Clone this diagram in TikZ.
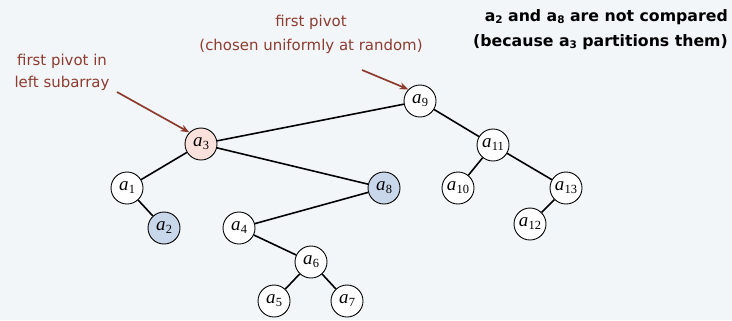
\documentclass[tikz,border=0pt]{standalone}
\usepackage{fontspec}
\setsansfont{DejaVu Sans}
\setmainfont{Liberation Serif}
\usetikzlibrary{arrows.meta}
\definecolor{bgc}{HTML}{F3F6F9}
\definecolor{redc}{HTML}{8E3B2F}
\definecolor{pinkc}{HTML}{FBE1DB}
\definecolor{bluec}{HTML}{C8D7EA}
\newcommand{\bsub}[1]{\raisebox{-0.3ex}{\fontsize{10.5}{10}\selectfont #1}}
\newcommand{\keylab}[1]{\textit{a}\kern0.3pt\raisebox{-0.35ex}{\fontsize{12.5}{12}\selectfont #1}}
\begin{document}
\begin{tikzpicture}[x=1bp,y=-1bp,
  keynode/.style={circle,draw,line width=0.9pt,fill=white,minimum size=32bp,inner sep=0pt,font=\rmfamily\fontsize{19}{19}\selectfont},
  edge/.style={line width=1.6pt},
  note/.style={text=redc,font=\sffamily\fontsize{15}{22}\selectfont,align=center},
  pointer/.style={draw=redc,line width=1.7pt,-{Stealth[length=9bp,width=7bp]}}]
\fill[bgc] (0,0) rectangle (732,320);
\useasboundingbox (0,0) rectangle (732,320);
\node[keynode] (a9) at (420,101) {\keylab{9}};
\node[keynode,fill=pinkc] (a3) at (201,144) {\keylab{3}};
\node[keynode] (a1) at (127,188) {\keylab{1}};
\node[keynode,fill=bluec] (a2) at (164,228) {\keylab{2}};
\node[keynode,fill=bluec] (a8) at (384,188) {\keylab{8}};
\node[keynode] (a4) at (239,228) {\keylab{4}};
\node[keynode] (a6) at (311,262) {\keylab{6}};
\node[keynode] (a5) at (274,301) {\keylab{5}};
\node[keynode] (a7) at (347,301) {\keylab{7}};
\node[keynode] (a11) at (493,145) {\keylab{11}};
\node[keynode] (a10) at (458,188) {\keylab{10}};
\node[keynode] (a13) at (566,188) {\keylab{13}};
\node[keynode] (a12) at (530,224) {\keylab{12}};
\draw[edge] (a9)--(a3);
\draw[edge] (a9)--(a11);
\draw[edge] (a3)--(a1);
\draw[edge] (a3)--(a8);
\draw[edge] (a1)--(a2);
\draw[edge] (a8)--(a4);
\draw[edge] (a4)--(a6);
\draw[edge] (a6)--(a5);
\draw[edge] (a6)--(a7);
\draw[edge] (a11)--(a10);
\draw[edge] (a11)--(a13);
\draw[edge] (a13)--(a12);
\node[note] (n1) at (62,72) {first pivot in\\left subarray};
\node[note,font=\sffamily\fontsize{15}{24}\selectfont] (n2) at (311,34) {first pivot\\(chosen uniformly at random)};
\coordinate (p1) at (117,92);
\coordinate (p2) at (362,70);
\draw[pointer] (p1) -- (a3.north west);
\draw[pointer] (p2) -- (a9.north west);
\node[font=\sffamily\bfseries\fontsize{15.8}{25}\selectfont,align=right,anchor=north east,inner sep=0pt] (t) at (728,9)
 {a\bsub{2} and a\bsub{8} are not compared\\(because a\bsub{3} partitions them)};
\end{tikzpicture}
\end{document}
